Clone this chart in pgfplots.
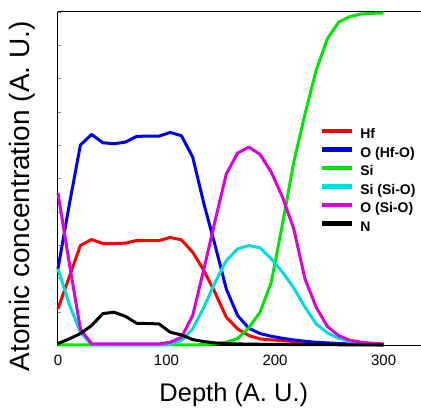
\documentclass[border=0pt]{standalone}
\usepackage{fontspec}
\setmainfont{Liberation Sans}
\usepackage{pgfplots}
\usepackage{pgfplotstable}
\pgfplotsset{compat=1.18}
\definecolor{cHf}{RGB}{255,0,0}
\definecolor{cOHf}{RGB}{0,0,245}
\definecolor{cSi}{RGB}{0,230,0}
\definecolor{cSiO}{RGB}{0,220,220}
\definecolor{cOSi}{RGB}{220,0,220}
\definecolor{cN}{RGB}{0,0,0}
\newcommand{\lgf}{\bfseries\fontsize{14}{14}\selectfont}
\pgfplotstableread{
x      hf    ohf   si    sisio osio  n
0      11.0  23.0  0.2   23.0  45.7  0.6
10.34  20.5  42.0  0.2   12.5  25.0  2.0
20.69  30.0  60.1  0.2   4.0   5.0   3.6
31.03  31.8  63.3  0.2   0.3   0.5   6.0
41.38  30.6  60.8  0.2   0.2   0.5   9.6
51.72  30.6  60.5  0.2   0.2   0.5   10.0
62.07  30.7  61.0  0.2   0.2   0.5   8.8
72.41  31.5  62.7  0.2   0.2   0.5   6.7
82.76  31.5  62.8  0.2   0.2   0.5   6.6
93.10  31.5  62.8  0.2   0.2   0.5   6.5
103.45 32.4  63.9  0.2   0.4   1.0   4.0
113.79 31.7  62.9  0.2   1.5   2.5   3.2
124.14 28.0  56.5  0.2   5.0   9.0   1.8
134.48 22.5  42.5  0.3   11.5  23.0  1.2
144.83 15.8  30.0  0.5   19.0  37.5  0.8
155.17 8.5   16.9  1.0   25.5  51.5  0.6
165.52 5.0   9.0   2.1   29.0  57.7  0.5
175.86 3.0   5.2   5.4   30.0  59.5  0.45
186.21 2.0   3.6   10.0  29.3  57.3  0.4
196.55 1.7   2.8   19.0  26.0  52.0  0.4
206.90 1.5   2.2   36.5  22.0  44.5  0.35
217.24 1.2   1.7   55.0  17.3  35.0  0.3
227.59 1.0   1.3   69.4  11.5  20.0  0.3
237.93 0.8   1.0   82.6  6.5   11.5  0.3
248.28 0.6   0.8   92.0  3.8   5.7   0.3
258.62 0.5   0.6   97.0  2.2   3.0   0.25
268.97 0.4   0.5   98.6  1.2   1.6   0.25
279.31 0.3   0.4   99.4  0.7   1.0   0.2
289.66 0.3   0.3   99.6  0.4   0.7   0.2
300    0.2   0.2   99.7  0.3   0.5   0.2
}\datatable
\begin{document}
\begin{tikzpicture}
\begin{axis}[
  scale only axis, width=363pt, height=334pt,
  xmin=0, xmax=334, ymin=0, ymax=100,
  clip=false,
  axis x line*=box, axis y line*=left,
  axis line style={line width=1pt},
  xtick={0,100,200,300},
  xtick style={draw=none},
  ytick={0,10,...,100}, yticklabels={},
  ytick style={line width=0.8pt},
  tick align=inside, major tick length=3pt,
  /pgf/number format/assume math mode=true,
  x tick label style={font=\fontsize{15}{15}\selectfont, yshift=-5.6pt},
  xlabel={Depth (A. U.)},
  ylabel={Atomic concentration (A. U.)},
  xlabel style={font=\fontsize{25.5}{25.5}\selectfont, at={(axis description cs:0.485,-0.1467)}, anchor=center},
  ylabel style={font=\fontsize{28}{28}\selectfont, at={(axis description cs:-0.099,0.4476)}, anchor=center},
  legend cell align=left,
  legend image code/.code={\draw[#1, line width=4.5pt, line cap=butt] (0pt,4.2pt) -- (30pt,4.2pt);},
  legend style={at={(rel axis cs:0.7228,0.651)}, anchor=north west, draw=none, fill=none,
    inner sep=0pt, row sep=5.55pt,
    font=\lgf,
    nodes={inner sep=0pt, text height=10pt, text depth=3pt, font=\lgf},
    /tikz/every odd column/.append style={column sep=5.7pt}},
  every axis plot/.append style={line width=3pt, line join=round, mark=none},
]
\addplot[cHf]  table[x=x, y=hf]    {\datatable};
\addlegendentry{\lgf Hf}
\addplot[cOHf] table[x=x, y=ohf]   {\datatable};
\addlegendentry{\lgf O (Hf-O)}
\addplot[cSi]  table[x=x, y=si]    {\datatable};
\addlegendentry{\lgf Si}
\addplot[cSiO] table[x=x, y=sisio] {\datatable};
\addlegendentry{\lgf Si (Si-O)}
\addplot[cOSi] table[x=x, y=osio]  {\datatable};
\addlegendentry{\lgf O (Si-O)}
\addplot[cN]   table[x=x, y=n]     {\datatable};
\addlegendentry{\lgf N}
\end{axis}
\path ([shift={(-58pt,-63pt)}]current axis.south west) rectangle ([shift={(0pt,12pt)}]current axis.north east);
\end{tikzpicture}
\end{document}
